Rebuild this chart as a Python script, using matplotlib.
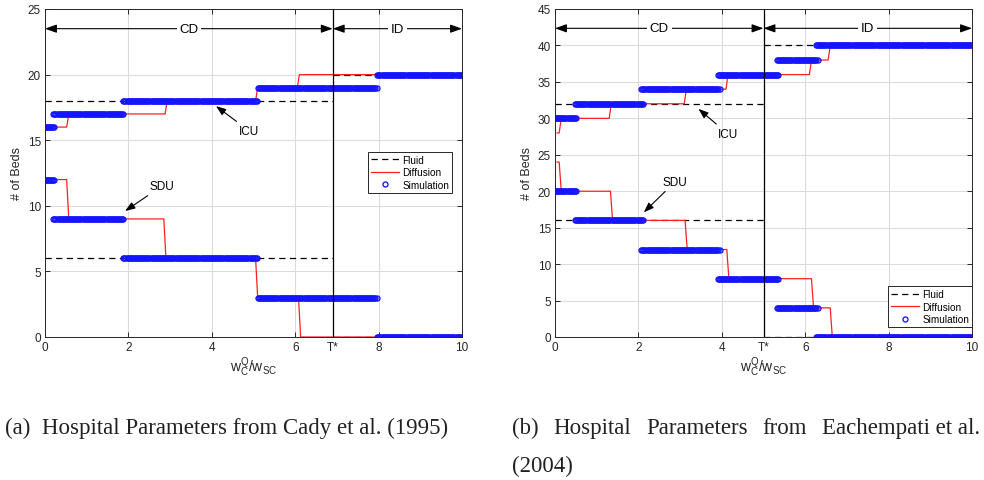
import numpy as np
import matplotlib
matplotlib.use("Agg")
import matplotlib.pyplot as plt

plt.rcParams["font.family"] = ["Liberation Sans", "DejaVu Sans"]

# ---- data --------------------------------------------------------------------

# panel (a): Cady et al. (1995)
t_star_a = 6.9
ylim_a = 25
fluid_icu_a = [18, 20]              # before / after T*
fluid_sdu_a = [6, 0]
diff_icu_a_levels = [16, 17, 18, 19, 20]
diff_icu_a_breaks = [0.52, 2.88, 5.05, 6.05]
diff_sdu_a_levels = [12, 9, 6, 3, 0]
diff_sdu_a_breaks = [0.52, 2.85, 5.05, 6.08]
diff_a_start = 0.0
sim_icu_a_levels = [16, 17, 18, 19, 20]
sim_icu_a_starts = [0.0, 0.2, 1.88, 5.1, 7.97]
sim_icu_a_ends = [0.24, 1.88, 5.1, 7.97, 10.0]
sim_sdu_a_levels = [12, 9, 6, 3, 0]
sim_sdu_a_starts = [0.0, 0.2, 1.88, 5.1, 7.97]
sim_sdu_a_ends = [0.24, 1.88, 5.1, 7.97, 10.0]
xticks_a = [0, 2, 4, 6, t_star_a, 8, 10]
xticklabels_a = ["0", "2", "4", "6", "T*", "8", "10"]

# panel (b): Eachempati et al. (2004)
t_star_b = 5.0
ylim_b = 45
fluid_icu_b = [32, 40]
fluid_sdu_b = [16, 0]
diff_icu_b_levels = [28, 30, 32, 34, 36, 38, 40]
diff_icu_b_breaks = [0.1, 1.3, 3.1, 4.1, 6.1, 6.55]
diff_sdu_b_levels = [24, 20, 16, 12, 8, 4, 0]
diff_sdu_b_breaks = [0.1, 1.33, 3.12, 4.12, 6.15, 6.6]
diff_b_start = 0.05
sim_icu_b_levels = [30, 32, 34, 36, 38, 40]
sim_icu_b_starts = [0.0, 0.48, 2.07, 3.9, 5.32, 6.26]
sim_icu_b_ends = [0.52, 2.12, 3.96, 5.36, 6.3, 10.0]
sim_sdu_b_levels = [20, 16, 12, 8, 4, 0]
sim_sdu_b_starts = [0.0, 0.48, 2.07, 3.9, 5.32, 6.26]
sim_sdu_b_ends = [0.52, 2.12, 3.96, 5.36, 6.3, 10.0]
xticks_b = [0, 2, 4, t_star_b, 6, 8, 10]
xticklabels_b = ["0", "2", "4", "T*", "6", "8", "10"]

caption_a = "(a)  Hospital Parameters from Cady et al. (1995)"
# caption (b) is justified in the source, so its words are spread over the line
caption_b_words = ["(b)", "Hospital", "Parameters", "from", "Eachempati et al."]
caption_b_line2 = "(2004)"


def step_path(start, levels, breaks, end=10.0, ramp=0.05):
    xs, ys = [start], [levels[0]]
    for b, lo, hi in zip(breaks, levels[:-1], levels[1:]):
        xs += [b, b + ramp]
        ys += [lo, hi]
    xs.append(end)
    ys.append(levels[-1])
    return xs, ys


def sim_points(starts, ends, levels, dx=0.025):
    xs, ys = [], []
    for s, e, lv in zip(starts, ends, levels):
        x = np.arange(s, e + 1e-9, dx)
        xs.append(x)
        ys.append(np.full_like(x, lv))
    return np.concatenate(xs), np.concatenate(ys)


def draw_panel(ax, t_star, ymax, fluid_icu, fluid_sdu,
               d_start, d_icu, d_sdu, s_icu, s_sdu, xticks, xlabels,
               legend_anchor, cd_y, ann_icu, ann_sdu):
    # fluid
    for lv in (fluid_icu, fluid_sdu):
        ax.plot([0, t_star], [lv[0], lv[0]], "k--", lw=0.9, dashes=(5, 3.5),
                label="Fluid" if lv is fluid_icu else None)
        ax.plot([t_star, 10], [lv[1], lv[1]], "k--", lw=0.9, dashes=(5, 3.5))
    # diffusion
    for i, (lv, br) in enumerate((d_icu, d_sdu)):
        xs, ys = step_path(d_start, lv, br)
        ax.plot(xs, ys, color="#ff2020", lw=0.9, label="Diffusion" if i == 0 else None)
    # simulation
    for i, seg in enumerate((s_icu, s_sdu)):
        xs, ys = sim_points(*seg)
        ax.plot(xs, ys, "o", ls="none", mfc="none", mec="#1414ff", ms=3.6, mew=0.95,
                label="Simulation" if i == 0 else None)

    ax.axvline(t_star, color="k", lw=0.9)
    ax.set_xlim(0, 10)
    ax.set_ylim(0, ymax)
    ax.set_xticks(xticks)
    ax.set_xticklabels(xlabels)
    ax.grid(True, color="#dcdcdc", lw=0.8)
    ax.set_axisbelow(True)
    ax.tick_params(direction="in", top=True, right=True, length=3.5,
                   labelsize=8.5, colors="#262626", width=0.7, pad=3)
    for sp in ax.spines.values():
        sp.set_color("#262626")
        sp.set_linewidth(0.7)
    ax.set_xlabel(r"$\mathregular{w_C^Q/w_{SC}}$", fontsize=10, color="#262626", labelpad=1)
    ax.set_ylabel("# of Beds", fontsize=9, color="#262626", labelpad=3)

    # CD / ID double arrows
    ap = dict(arrowstyle="<|-|>,head_length=0.7,head_width=0.25", color="k", lw=0.8,
              mutation_scale=10, shrinkA=0, shrinkB=0)
    ax.annotate("", xy=(0, cd_y), xytext=(t_star, cd_y), arrowprops=ap)
    ax.annotate("", xy=(t_star, cd_y), xytext=(10, cd_y), arrowprops=ap)
    bb = dict(facecolor="white", edgecolor="none", pad=2)
    ax.text(t_star / 2, cd_y, "CD", ha="center", va="center", fontsize=9.5, bbox=bb)
    ax.text((t_star + 10) / 2, cd_y, "ID", ha="center", va="center", fontsize=9.5, bbox=bb)

    aap = dict(arrowstyle="-|>,head_length=0.6,head_width=0.22", color="k", lw=0.8,
               mutation_scale=10, shrinkA=1, shrinkB=0)
    for label, (tip, txt) in (("ICU", ann_icu), ("SDU", ann_sdu)):
        ax.annotate(label, xy=tip, xytext=txt, fontsize=8.5, ha="center", va="center",
                    arrowprops=aap)

    leg = ax.legend(loc="lower right", bbox_to_anchor=legend_anchor, fontsize=7.2,
                    fancybox=False, edgecolor="#262626", framealpha=1,
                    handlelength=2.8, handletextpad=0.3, borderpad=0.3,
                    labelspacing=0.25, borderaxespad=0)
    leg.get_frame().set_linewidth(0.7)


fig = plt.figure(figsize=(9.84, 4.81), dpi=100)
ax_a = fig.add_axes([45 / 984, 143 / 481, 417 / 984, 328 / 481])
ax_b = fig.add_axes([555 / 984, 143 / 481, 417 / 984, 328 / 481])

draw_panel(ax_a, t_star_a, ylim_a, fluid_icu_a, fluid_sdu_a, diff_a_start,
           (diff_icu_a_levels, diff_icu_a_breaks), (diff_sdu_a_levels, diff_sdu_a_breaks),
           (sim_icu_a_starts, sim_icu_a_ends, sim_icu_a_levels),
           (sim_sdu_a_starts, sim_sdu_a_ends, sim_sdu_a_levels),
           xticks_a, xticklabels_a, (0.976, 0.44), 23.5,
           ((4.1, 17.6), (4.9, 15.7)), ((1.92, 9.6), (2.8, 11.5)))

draw_panel(ax_b, t_star_b, ylim_b, fluid_icu_b, fluid_sdu_b, diff_b_start,
           (diff_icu_b_levels, diff_icu_b_breaks), (diff_sdu_b_levels, diff_sdu_b_breaks),
           (sim_icu_b_starts, sim_icu_b_ends, sim_icu_b_levels),
           (sim_sdu_b_starts, sim_sdu_b_ends, sim_sdu_b_levels),
           xticks_b, xticklabels_b, (1.0, 0.03), 42.35,
           ((3.44, 31.3), (4.14, 27.9)), ((2.13, 17.1), (2.88, 21.3)))

cap_font = dict(family=["Liberation Serif", "DejaVu Serif"], fontsize=16.5, color="#222222",
                va="baseline", ha="left")
base1 = 1 - 434 / 481
base2 = 1 - 472 / 481
fig.text(5 / 984, base1, caption_a, **cap_font)

# justify caption (b) between x=512 and x=980 px
renderer = fig.canvas.get_renderer()
words = [fig.text(0, base1, w, **cap_font) for w in caption_b_words]
widths = [t.get_window_extent(renderer).width for t in words]
left_px, right_px = 512, 980
gap = (right_px - left_px - sum(widths)) / (len(words) - 1)
xpos = left_px
for t, w in zip(words, widths):
    t.set_x(xpos / 984)
    xpos += w + gap
fig.text(512 / 984, base2, caption_b_line2, **cap_font)

fig.savefig("out.png", dpi=100)
